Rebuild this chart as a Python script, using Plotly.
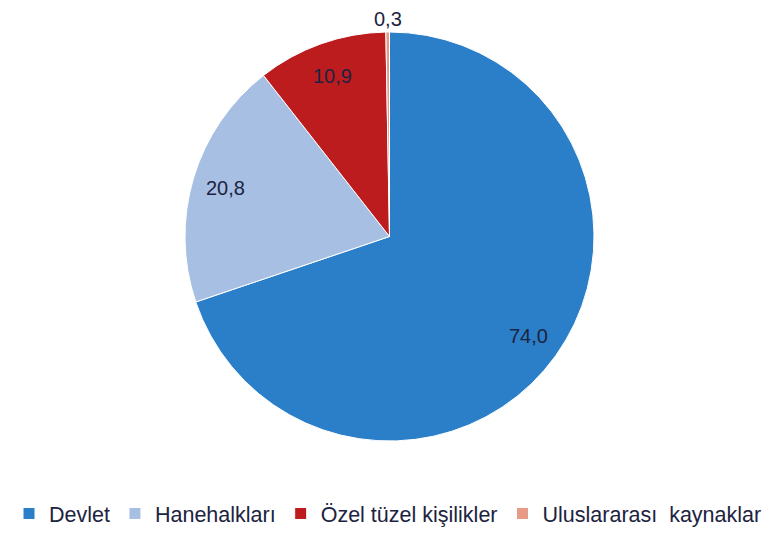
import math
import plotly.graph_objects as go

labels = ["Devlet", "Hanehalkları", "Özel tüzel kişilikler", "Uluslararası  kaynaklar"]
values = [74.0, 20.8, 10.9, 0.3]
value_labels = ["74,0", "20,8", "10,9", "0,3"]
colors = ["#2B7FC8", "#A7BFE3", "#BD1C1E", "#E79A85"]
label_inside = [True, True, True, False]

OFF = 8  # page body margin
W, H = 775 - OFF, 535 - OFF
cx, cy, r = 389.5 - OFF, 236.5 - OFF, 204.5

fig = go.Figure(go.Pie(
    labels=labels,
    values=values,
    sort=False,
    direction="clockwise",
    rotation=0,
    marker=dict(colors=colors, line=dict(color="white", width=1)),
    textinfo="none",
    textposition="none",
    domain=dict(x=[(cx - r) / W, (cx + r) / W], y=[1 - (cy + r) / H, 1 - (cy - r) / H]),
    hoverinfo="label+value",
))

# data labels placed at each slice's mid-angle (derived from the values)
total = sum(values)
cum = 0.0
annotations = []
for v, txt, inside in zip(values, value_labels, label_inside):
    mid = math.radians((cum + v / 2) / total * 360)
    cum += v
    rr = 0.835 * r if inside else r + 20
    px = cx + rr * math.sin(mid)
    py = max(cy - rr * math.cos(mid), 11)
    annotations.append(dict(
        x=px / W, y=1 - py / H, xref="paper", yref="paper",
        text=txt, showarrow=False, xanchor="center", yanchor="middle",
        font=dict(family="Liberation Sans, Arial, sans-serif", size=20, color="#1C2340"),
    ))

fig.update_layout(
    width=W, height=H,
    margin=dict(l=0, r=0, t=0, b=0),
    separators=", ",
    paper_bgcolor="white",
    plot_bgcolor="white",
    font=dict(family="Liberation Sans, Arial, sans-serif", color="#1C2340"),
    annotations=annotations,
    legend=dict(
        orientation="h",
        x=(388 - OFF) / W, xanchor="center",
        y=1 - (513.5 - OFF) / H, yanchor="middle",
        font=dict(size=21.5, color="#1C2340"),
        itemwidth=30,
        traceorder="normal",
    ),
)

fig.write_html("out.html")
